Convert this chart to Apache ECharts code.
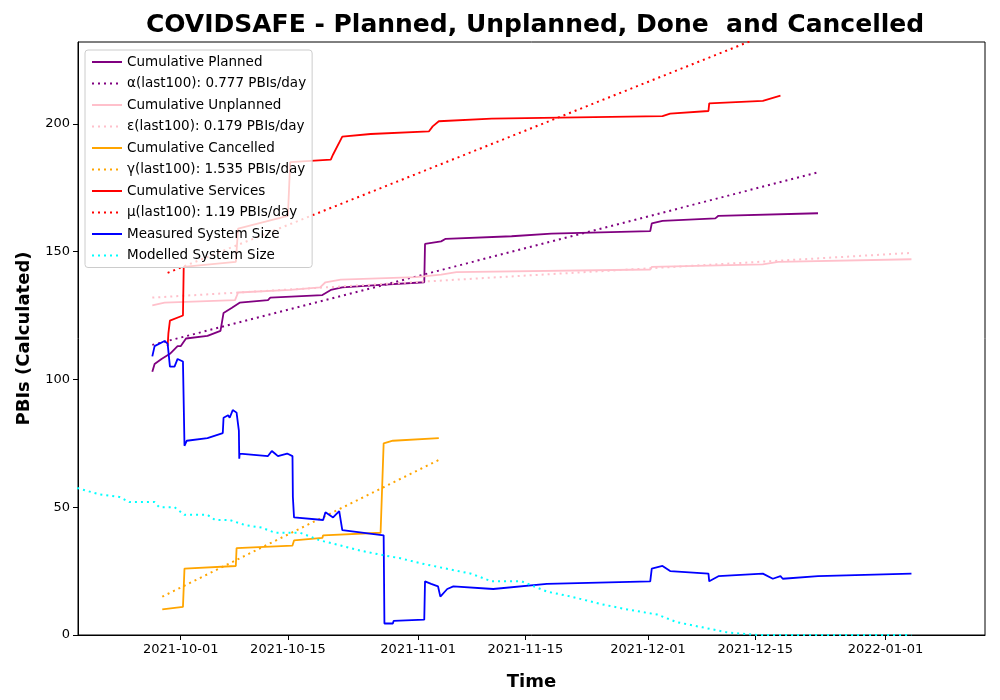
<!DOCTYPE html>
<html><head><meta charset="utf-8">
<script src="https://cdn.jsdelivr.net/npm/echarts@6/dist/echarts.min.js"></script>
<style>html,body{margin:0;padding:0;background:#fff}#c{width:1000px;height:700px}</style>
</head><body><div id="c"></div>
<script>
// x values are days after 2021-10-01
const tickDays = [0, 14, 31, 45, 61, 75, 92];
const tickLabels = ['2021-10-01','2021-10-15','2021-11-01','2021-11-15','2021-12-01','2021-12-15','2022-01-01'];
const planned = [[-3.7,103],[-3.4,106],[-2.5,108],[-1.4,110],[-0.4,113],[0,113],[0.7,116],[3.5,117],[5.2,119],[5.6,126],[6.7,128],[7.7,130],[11.4,131],[11.7,132],[18.5,133],[19.6,135],[21.1,136],[26.1,137],[31.8,138],[31.9,153],[34,154],[34.6,155],[43.2,156],[48.4,157],[61.3,158],[61.5,161],[62.9,162],[69.8,163],[70.2,164],[83.2,165]];
const plannedTrend = [[-3.7,113.5],[83.2,181]];
const unplanned = [[-3.7,129],[-2.1,130],[7.1,131],[7.5,134],[14.3,135],[18.2,136],[18.9,138],[20.9,139],[30.7,140],[34,141],[36,142],[61.3,143],[61.5,144],[76,145],[78,146],[95.4,147]];
const unplannedTrend = [[-3.7,132],[95.4,149.5]];
const cancelled = [[-2.4,10],[0.3,11],[0.5,26],[7.2,27],[7.3,34],[14.6,35],[14.8,37],[18.5,38],[18.6,39],[26.1,40],[26.5,75],[27.7,76],[33.7,77]];
const cancelledTrend = [[-2.4,15],[33.7,68.5]];
const services = [[-1.7,113],[-1.6,118],[-1.4,123],[0.3,125],[0.4,144],[7.2,146],[7.5,159],[14,164],[14.3,185],[19.6,186],[19.9,188],[21.1,195],[24.8,196],[32.4,197],[32.9,199],[33.7,201],[40.6,202],[62.9,203],[63.9,204],[68.9,205],[69,208],[76,209],[78.3,211]];
const servicesTrend = [[-1.7,141.7],[78.3,237]];
const measured = [[-3.7,109],[-3.4,113],[-2.1,115],[-1.7,114],[-1.4,105],[-0.8,105],[-0.4,108],[0.3,107],[0.5,74],[0.8,76],[3.5,77],[5.5,79],[5.6,85],[6.2,86],[6.4,85],[6.8,88],[7.3,87],[7.6,80],[7.65,69],[7.7,71],[11.4,70],[11.9,72],[12.3,71],[12.7,70],[13.9,71],[14.6,70],[14.65,54],[14.8,46],[18.6,45],[18.9,48],[19.9,46],[20.7,48.5],[21.1,41],[26.5,39],[26.6,4.5],[27.7,4.5],[27.8,5.5],[31.8,6],[31.9,21],[32.7,20],[33.6,19],[33.9,15],[34.8,18],[35.6,19],[40.8,18],[47.8,20],[61.3,21],[61.5,26],[62.9,27],[63.9,25],[68.9,24],[69,21],[70.2,23],[76,24],[77.3,22],[78.3,23],[78.6,22],[83.2,23],[95.4,24]];
const modelled = [[-13.5,57.5],[-10.6,55],[-8,54],[-6.7,52],[-3.4,52],[-2.8,50],[-0.8,50],[0.5,47],[3.5,47],[4.5,45],[6.4,45],[8.4,43],[10.6,42],[12.3,40],[15.6,40],[18.2,37],[20.9,35],[23.5,33],[26.8,31],[28.7,30],[31.4,28],[34.6,26],[37.9,24],[40.6,21],[44.5,21],[47.8,17],[51,15],[55,12],[58.3,10],[62.2,8],[64.8,5],[68.1,3],[71.4,1],[75.3,0],[95.4,0]];

function s(name, data, color, dotted){
  return {name, type:'line', data, symbol:'none', showSymbol:false, animation:false,
    lineStyle:{color, width: dotted?2:1.8, type: dotted?[2,4]:'solid'}, itemStyle:{color}};
}
const chart = echarts.init(document.getElementById('c'));
chart.setOption({
  animation:false,
  title:{text:'COVIDSAFE - Planned, Unplanned, Done  and Cancelled', left:530, textAlign:'center', top:8,
    textStyle:{fontFamily:'DejaVu Sans', fontSize:25, fontWeight:'bold', color:'#000'}},
  grid:{left:78, right:15, top:42, bottom:65, show:true, borderColor:'#000', borderWidth:1, backgroundColor:'transparent'},
  legend:{orient:'vertical', left:85, top:50, itemGap:7.5, itemWidth:30, itemHeight:10,
    itemStyle:{opacity:0},
    backgroundColor:'rgba(255,255,255,0.8)', borderColor:'#ccc', borderWidth:1, borderRadius:3, padding:[5,6,5,6],
    textStyle:{fontFamily:'DejaVu Sans', fontSize:13.5, color:'#000'}},
  xAxis:{type:'value', min:-13.4, max:105, name:'Time', nameLocation:'middle', nameGap:38,
    nameTextStyle:{fontFamily:'DejaVu Sans', fontSize:18, fontWeight:'bold', color:'#000'},
    splitLine:{show:false}, axisLine:{onZero:false, lineStyle:{color:'#000'}},
    axisTick:{show:true, customValues:tickDays, lineStyle:{color:'#000'}},
    axisLabel:{customValues:tickDays, color:'#000', fontFamily:'DejaVu Sans', fontSize:13,
      formatter:v=>tickLabels[tickDays.indexOf(Math.round(v))]||''}},
  yAxis:{type:'value', min:0, max:232, interval:50, name:'PBIs (Calculated)', nameLocation:'middle', nameGap:45,
    nameTextStyle:{fontFamily:'DejaVu Sans', fontSize:18, fontWeight:'bold', color:'#000'},
    splitLine:{show:false}, axisLine:{show:true, onZero:false, lineStyle:{color:'#000'}}, axisTick:{show:true, lineStyle:{color:'#000'}},
    axisLabel:{color:'#000', fontFamily:'DejaVu Sans', fontSize:13, showMaxLabel:false}},
  series:[
    s('Cumulative Planned', planned, 'purple'),
    s('α(last100): 0.777 PBIs/day', plannedTrend, 'purple', true),
    s('Cumulative Unplanned', unplanned, 'pink'),
    s('ε(last100): 0.179 PBIs/day', unplannedTrend, 'pink', true),
    s('Cumulative Cancelled', cancelled, 'orange'),
    s('γ(last100): 1.535 PBIs/day', cancelledTrend, 'orange', true),
    s('Cumulative Services', services, 'red'),
    s('μ(last100): 1.19 PBIs/day', servicesTrend, 'red', true),
    s('Measured System Size', measured, 'blue'),
    s('Modelled System Size', modelled, 'cyan', true)
  ]
});
</script></body></html>
